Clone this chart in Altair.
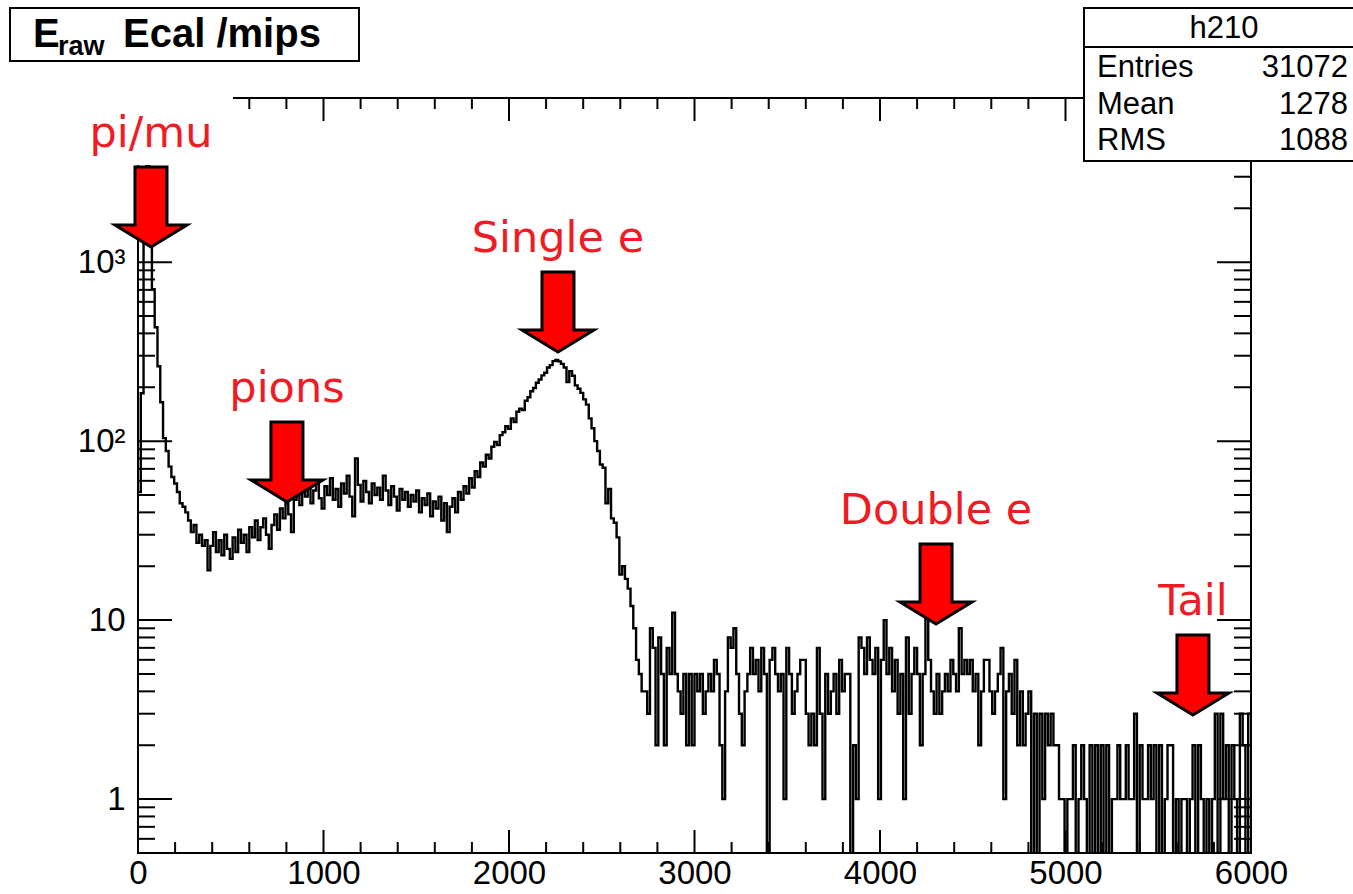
import altair as alt
import pandas as pd

# ---------------------------------------------------------------- data
BIN_WIDTH = 15  # mips per bin, 400 bins over 0..6000

counts = [
    # 0 .. 17 : pi/mu peak and its fall-off
    52, 185, 2400, 5150, 2050, 705, 433, 262, 165, 104, 88, 72, 63, 58, 52, 45, 43, 40,
    # 18 .. 55 : trough
    36, 31, 34, 27, 30, 26, 28, 19, 26, 31, 24, 28, 23, 30, 25, 22, 29, 24, 32, 27,
    30, 24, 33, 29, 36, 28, 33, 37, 30, 25, 34, 39, 32, 42, 37, 45, 39, 31,
    # 56 .. 115 : pion plateau
    47, 52, 44, 55, 49, 58, 45, 53, 60, 48, 42, 56, 50, 62, 47, 54, 43, 58, 51, 64,
    49, 38, 80, 57, 46, 60, 52, 45, 58, 50, 55, 47, 64, 53, 44, 56, 49, 41, 54, 47,
    52, 43, 50, 46, 53, 40, 48, 44, 51, 38, 46, 42, 49, 36, 45, 31, 43, 48, 40, 52,
    # 116 .. 165 : single electron peak
    47, 56, 51, 62, 55, 68, 63, 76, 72, 84, 80, 93, 99, 95, 108, 112, 121, 117, 134, 128,
    146, 152, 149, 168, 176, 190, 198, 212, 221, 233, 241, 258, 266, 280, 284, 279, 270, 258, 214, 246,
    232, 205, 196, 186, 171, 160, 134, 118, 100, 88,
    # 166 .. 181 : falling edge
    74, 71, 45, 54, 37, 35, 29, 18, 20, 17, 15, 12, 9, 6, 5, 4,
    # 182 .. 275
    4, 3, 9, 7, 2, 8, 5, 2, 7, 5,
    11, 5, 4, 3, 5, 2, 5, 2, 5, 4,
    5, 3, 4, 5, 4, 6, 5, 2, 1, 4,
    8, 7, 9, 5, 3, 2, 4, 5, 7, 5,
    6, 4, 7, 5, 0, 6, 7, 5, 4, 5,
    1, 7, 5, 3, 4, 5, 6, 6, 3, 2,
    3, 2, 7, 3, 1, 5, 3, 4, 5, 3,
    6, 4, 5, 5, 0, 2, 1, 8, 7, 5,
    8, 6, 5, 7, 1, 6, 10, 5, 7, 4,
    6, 3, 5, 1,
    # 276 .. 319 : double electron bump
    8, 3, 5, 7, 5, 2, 5, 11, 6, 4,
    3, 5, 3, 4, 5, 4, 6, 5, 4, 9,
    5, 6, 5, 6, 4, 5, 2, 4, 6, 6,
    4, 3, 4, 5, 7, 1, 4, 5, 3, 6,
    2, 4, 2, 3,
    # 320 .. 399 : tail
    4, 0, 3, 0, 3, 1, 3, 2, 3, 2,
    2, 1, 1, 0, 1, 1, 2, 0, 1, 2,
    1, 0, 2, 0, 2, 0, 2, 0, 2, 0,
    1, 1, 2, 1, 1, 2, 1, 1, 3, 0,
    2, 1, 1, 2, 1, 2, 0, 2, 0, 1,
    2, 2, 0, 1, 0, 1, 1, 0, 1, 2,
    0, 2, 1, 0, 1, 0, 1, 3, 0, 3,
    1, 2, 0, 2, 1, 0, 3, 2, 0, 3,
]

x_major = [0, 1000, 2000, 3000, 4000, 5000, 6000]
x_minor = [v for v in range(200, 6000, 200) if v % 1000]
y_major = [1, 10, 100, 1000]
y_minor = [m * d for d in (0.1, 1, 10, 100, 1000) for m in range(2, 10)
           if 0.5 <= m * d <= 8260]

ann_labels = ["pi/mu", "pions", "Single e", "Double e", "Tail"]
ann_x = [70, 803, 2264, 4302, 5687]
ann_y = [1214, 45.7, 315, 9.5, 2.95]

stat_names = ["Entries", "Mean", "RMS"]
stat_values = ["31072", "1278", "1088"]
hist_name = "h210"

# ---------------------------------------------------------------- layout
W, H = 1113, 755           # frame size
LEFT, TOP = 138, 98        # frame origin on the page
RIGHT, BOTTOM = 1353 - LEFT - W, 894 - TOP - H


def px(x):
    return x - LEFT


def py(y):
    return y - TOP


xscale = alt.Scale(domain=[0, 6000], nice=False, zero=False)
yscale = alt.Scale(type="log", domain=[0.5, 8260], nice=False)

# one axis definition per channel, shared by every layer so they merge cleanly
X_AXIS = alt.Axis(values=x_major, format="d", ticks=False, domain=False, grid=False,
                  title=None, labelFontSize=33, labelPadding=4,
                  labelFlush=False, labelOverlap=False,
                  labelFont="Liberation Sans", labelColor="black")
Y_AXIS = alt.Axis(values=y_major, ticks=False, domain=False, grid=False,
                  title=None, labelFontSize=33, labelPadding=13,
                  labelOverlap=False, labelFont="Liberation Sans",
                  labelColor="black",
                  labelExpr="datum.value >= 1000 ? '10\u00b3' : "
                            "datum.value >= 100 ? '10\u00b2' : "
                            "datum.value >= 10 ? '10' : '1'")

edges = [i * BIN_WIDTH for i in range(len(counts) + 1)]
hist_df = pd.DataFrame({"edge": edges, "entries": counts + [counts[-1]]})
one = pd.DataFrame({"k": [0]})

# ---------------------------------------------------------------- histogram
hist = (
    alt.Chart(hist_df)
    .transform_calculate(shown="max(datum.entries, 0.3)")
    .mark_line(interpolate="step-after", color="black", strokeWidth=2.4, clip=True)
    .encode(
        x=alt.X("edge:Q", scale=xscale, axis=X_AXIS),
        y=alt.Y("shown:Q", scale=yscale, axis=Y_AXIS),
    )
)


def xticks(vals, length, top):
    y0, y1 = (0, length) if top else (H, H - length)
    return alt.Chart(pd.DataFrame({"v": vals})).mark_rule(color="black", strokeWidth=2).encode(
        x=alt.X("v:Q", scale=xscale, axis=X_AXIS), y=alt.value(y0), y2=alt.value(y1))


def yticks(vals, length, right):
    x0, x1 = (W, W - length) if right else (0, length)
    return alt.Chart(pd.DataFrame({"v": vals})).mark_rule(color="black", strokeWidth=2).encode(
        y=alt.Y("v:Q", scale=yscale, axis=Y_AXIS), x=alt.value(x0), x2=alt.value(x1))


ticks = [
    xticks(x_major, 23, False), xticks(x_minor, 11, False),
    xticks(x_major, 23, True), xticks(x_minor, 11, True),
    yticks(y_major, 34, False), yticks(y_minor, 17, False),
    yticks(y_major, 34, True), yticks(y_minor, 17, True),
]

frame = alt.Chart(one).mark_rect(fillOpacity=0, stroke="black", strokeWidth=2).encode(
    x=alt.value(0), x2=alt.value(W), y=alt.value(0), y2=alt.value(H))

# white pad behind the pi/mu label
label_pad = alt.Chart(one).mark_rect(color="white").encode(
    x=alt.value(px(58)), x2=alt.value(px(233)), y=alt.value(py(88)), y2=alt.value(py(165)))

# ---------------------------------------------------------------- stats box
stats_box = alt.Chart(one).mark_rect(fill="white", stroke="black", strokeWidth=2).encode(
    x=alt.value(px(1084)), x2=alt.value(px(1370)), y=alt.value(py(8)), y2=alt.value(py(161)))
stats_sep = alt.Chart(one).mark_rule(color="black", strokeWidth=2).encode(
    x=alt.value(px(1084)), x2=alt.value(px(1370)), y=alt.value(py(47)))
stats_title = alt.Chart(one).mark_text(
    text=hist_name, font="Liberation Sans", fontSize=31, color="black",
    align="center", baseline="alphabetic").encode(x=alt.value(px(1224)), y=alt.value(py(38)))

stat_rows = []
for i, (name, val) in enumerate(zip(stat_names, stat_values)):
    base = py(77 + 36.5 * i)
    stat_rows.append(alt.Chart(one).mark_text(
        text=name, font="Liberation Sans", fontSize=31, color="black",
        align="left", baseline="alphabetic").encode(x=alt.value(px(1097)), y=alt.value(base)))
    stat_rows.append(alt.Chart(one).mark_text(
        text=val, font="Liberation Sans", fontSize=31, color="black",
        align="right", baseline="alphabetic").encode(x=alt.value(px(1348)), y=alt.value(base)))

# ---------------------------------------------------------------- title box
title_box = alt.Chart(one).mark_rect(fill="white", stroke="black", strokeWidth=2).encode(
    x=alt.value(px(10)), x2=alt.value(px(359)), y=alt.value(py(8)), y2=alt.value(py(61)))


def title_part(text, x, y, size):
    return alt.Chart(one).mark_text(
        text=text, font="Liberation Sans", fontSize=size, fontWeight="bold", color="black",
        align="left", baseline="alphabetic").encode(x=alt.value(px(x)), y=alt.value(py(y)))


title_parts = [
    title_part("E", 33, 47, 40),
    title_part("raw", 58, 55, 27),
    title_part("Ecal /mips", 123, 47, 40),
]

# ---------------------------------------------------------------- annotations
ann_df = pd.DataFrame({"label": ann_labels, "x": ann_x, "y": ann_y})
ARROW = "M -0.4 -1 L 0.4 -1 L 0.4 0.45 L 0.9 0.45 L 0 1 L -0.9 0.45 L -0.4 0.45 Z"

ann_text = alt.Chart(ann_df).mark_text(
    font="DejaVu Sans", fontSize=43, color="#ee1c24", align="center",
    baseline="alphabetic", dy=-100).encode(
    x=alt.X("x:Q", scale=xscale, axis=X_AXIS),
    y=alt.Y("y:Q", scale=yscale, axis=Y_AXIS),
    text="label:N")

arrows = alt.Chart(ann_df).mark_point(
    shape=ARROW, size=6400, filled=True, fill="#ff0000", stroke="black",
    strokeWidth=3, strokeJoin="miter", opacity=1, fillOpacity=1, strokeOpacity=1,
    yOffset=-40).encode(
    x=alt.X("x:Q", scale=xscale, axis=X_AXIS),
    y=alt.Y("y:Q", scale=yscale, axis=Y_AXIS))

chart = alt.layer(
    hist, *ticks, frame, label_pad,
    stats_box, stats_sep, stats_title, *stat_rows,
    title_box, *title_parts,
    ann_text, arrows,
).properties(
    width=W, height=H,
    padding={"left": LEFT, "top": TOP, "right": RIGHT, "bottom": BOTTOM},
    autosize=alt.AutoSizeParams(type="none"),
    background="white",
).configure_view(stroke=None)

chart.save("out.html", embed_options={"renderer": "svg", "actions": False})
